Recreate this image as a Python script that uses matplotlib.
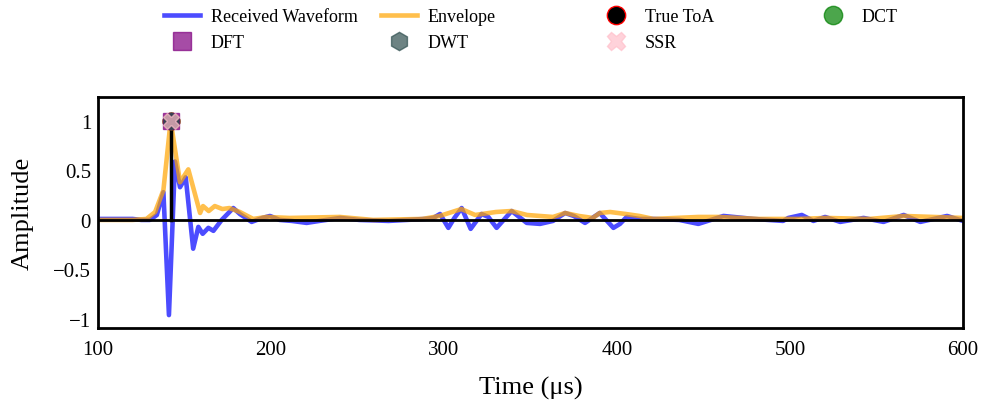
import matplotlib
matplotlib.use('Agg')
import matplotlib.pyplot as plt

plt.rcParams['font.family'] = ['Liberation Serif', 'DejaVu Serif']
plt.rcParams['mathtext.fontset'] = 'stix'

# received waveform (time in us, normalised amplitude)
wave_t = [100, 110, 120, 125, 130, 134, 137.8, 141, 144.5, 147.4, 150.7, 155, 158, 160.5,
          163.8, 166.7, 171.5, 178.2, 182, 188.8, 195, 199.4, 205, 212, 220.6, 228, 240,
          251, 268, 289, 293.8, 297.7, 302.5, 306, 310.2, 315.4, 321.7, 325.6, 330.4, 339.1,
          347.8, 355.5, 363, 370, 375, 381.5, 390, 397.9, 401.7, 405.6, 413, 421, 436, 447,
          461.5, 479, 496, 499, 506.8, 513.5, 520.3, 529, 542.5, 554, 565.7, 575.3, 590.8, 600]
wave_amp = [0.01, 0.01, 0.01, 0.0, 0.0, 0.05, 0.28, -0.96, 0.59, 0.33, 0.43, -0.29, -0.07, -0.14,
            -0.08, -0.11, 0.0, 0.12, 0.06, -0.02, 0.02, 0.04, 0.0, -0.01, -0.03, -0.01, 0.02,
            0.0, -0.01, 0.01, 0.02, 0.06, -0.08, 0.02, 0.12, -0.09, 0.06, 0.03, -0.08, 0.09,
            -0.03, -0.04, -0.01, 0.07, 0.04, -0.03, 0.07, -0.08, -0.04, 0.03, 0.01, 0.01, 0.0, -0.04,
            0.04, 0.01, -0.01, 0.02, 0.05, -0.01, 0.03, -0.02, 0.02, -0.02, 0.05, -0.02, 0.04, -0.01]

# envelope
env_t = [100, 120, 128, 133, 137.8, 142, 147.4, 152.2, 159, 160.7, 164, 167.5, 171.9, 176,
         182, 189.7, 197.4, 210.8, 239.7, 259, 287.5, 297.5, 310, 318, 330, 339, 348, 363,
         370, 378, 386, 390, 396, 405, 413, 421, 447, 459, 482, 505, 521, 546, 566, 600]
env_amp = [0.0, 0.0, 0.01, 0.08, 0.3, 1.0, 0.38, 0.51, 0.07, 0.14, 0.09, 0.14, 0.11, 0.12,
           0.08, 0.01, 0.03, 0.02, 0.03, 0.0, 0.01, 0.04, 0.11, 0.05, 0.08, 0.09, 0.05, 0.03,
           0.07, 0.04, 0.02, 0.07, 0.08, 0.06, 0.04, 0.01, 0.03, 0.03, 0.01, 0.01, 0.02, 0.01, 0.04, 0.02]

true_toa = 142
est_toa = {'DCT': 142, 'DFT': 142, 'DWT': 142, 'SSR': 142}
est_amp = 1.0

fig = plt.figure(figsize=(9.82, 4.06), dpi=100)
ax = fig.add_axes([0.0998, 0.1897, 0.8809, 0.5689])

l_wave, = ax.plot(wave_t, wave_amp, color='blue', alpha=0.7, lw=3.3, label='Received Waveform')
l_env, = ax.plot(env_t, env_amp, color='orange', alpha=0.7, lw=3.3, label='Envelope')
ax.axhline(0, color='black', lw=2)
ax.plot([true_toa, true_toa], [0, est_amp], color='black', lw=2.5)

m_toa, = ax.plot(true_toa, est_amp, 'o', color='black', mec='red', ms=12, ls='none', label='True ToA')
m_dct, = ax.plot(est_toa['DCT'], est_amp, 'o', color='green', alpha=0.7, ms=12, ls='none', label='DCT')
m_dft, = ax.plot(est_toa['DFT'], est_amp, 's', color='purple', alpha=0.7, ms=12, ls='none', label='DFT')
m_dwt, = ax.plot(est_toa['DWT'], est_amp, 'h', color='darkslategray', alpha=0.7, ms=12, ls='none', label='DWT')
m_ssr, = ax.plot(est_toa['SSR'], est_amp, 'X', color='pink', alpha=0.7, ms=12, ls='none', label='SSR')

ax.set_xlim(100, 600)
ax.set_ylim(-1.09, 1.24)
ax.set_xticks([100, 200, 300, 400, 500, 600])
ax.set_yticks([-1, -0.5, 0, 0.5, 1])
ax.set_yticklabels(['\u22121', '\u22120.5', '0', '0.5', '1'])
ax.tick_params(axis='both', length=0, labelsize=15)
ax.tick_params(axis='x', pad=9)
ax.tick_params(axis='y', pad=5)
for s in ax.spines.values():
    s.set_linewidth(2)
    s.set_color('black')
ax.set_xlabel('Time (\u03bcs)', fontsize=19, labelpad=12)
ax.set_ylabel('Amplitude', fontsize=19, labelpad=14)

cols = [[l_wave, m_dft], [l_env, m_dwt], [m_toa, m_ssr], [m_dct]]
xs = [0.167, 0.388, 0.609, 0.830]
for hs, x in zip(cols, xs):
    fig.legend(handles=hs, loc='upper left', bbox_to_anchor=(x, 0.977), frameon=False,
               fontsize=13, borderpad=0, borderaxespad=0, handlelength=2.0,
               handletextpad=0.6, markerscale=1.1)

fig.savefig('out.png', dpi=100)
